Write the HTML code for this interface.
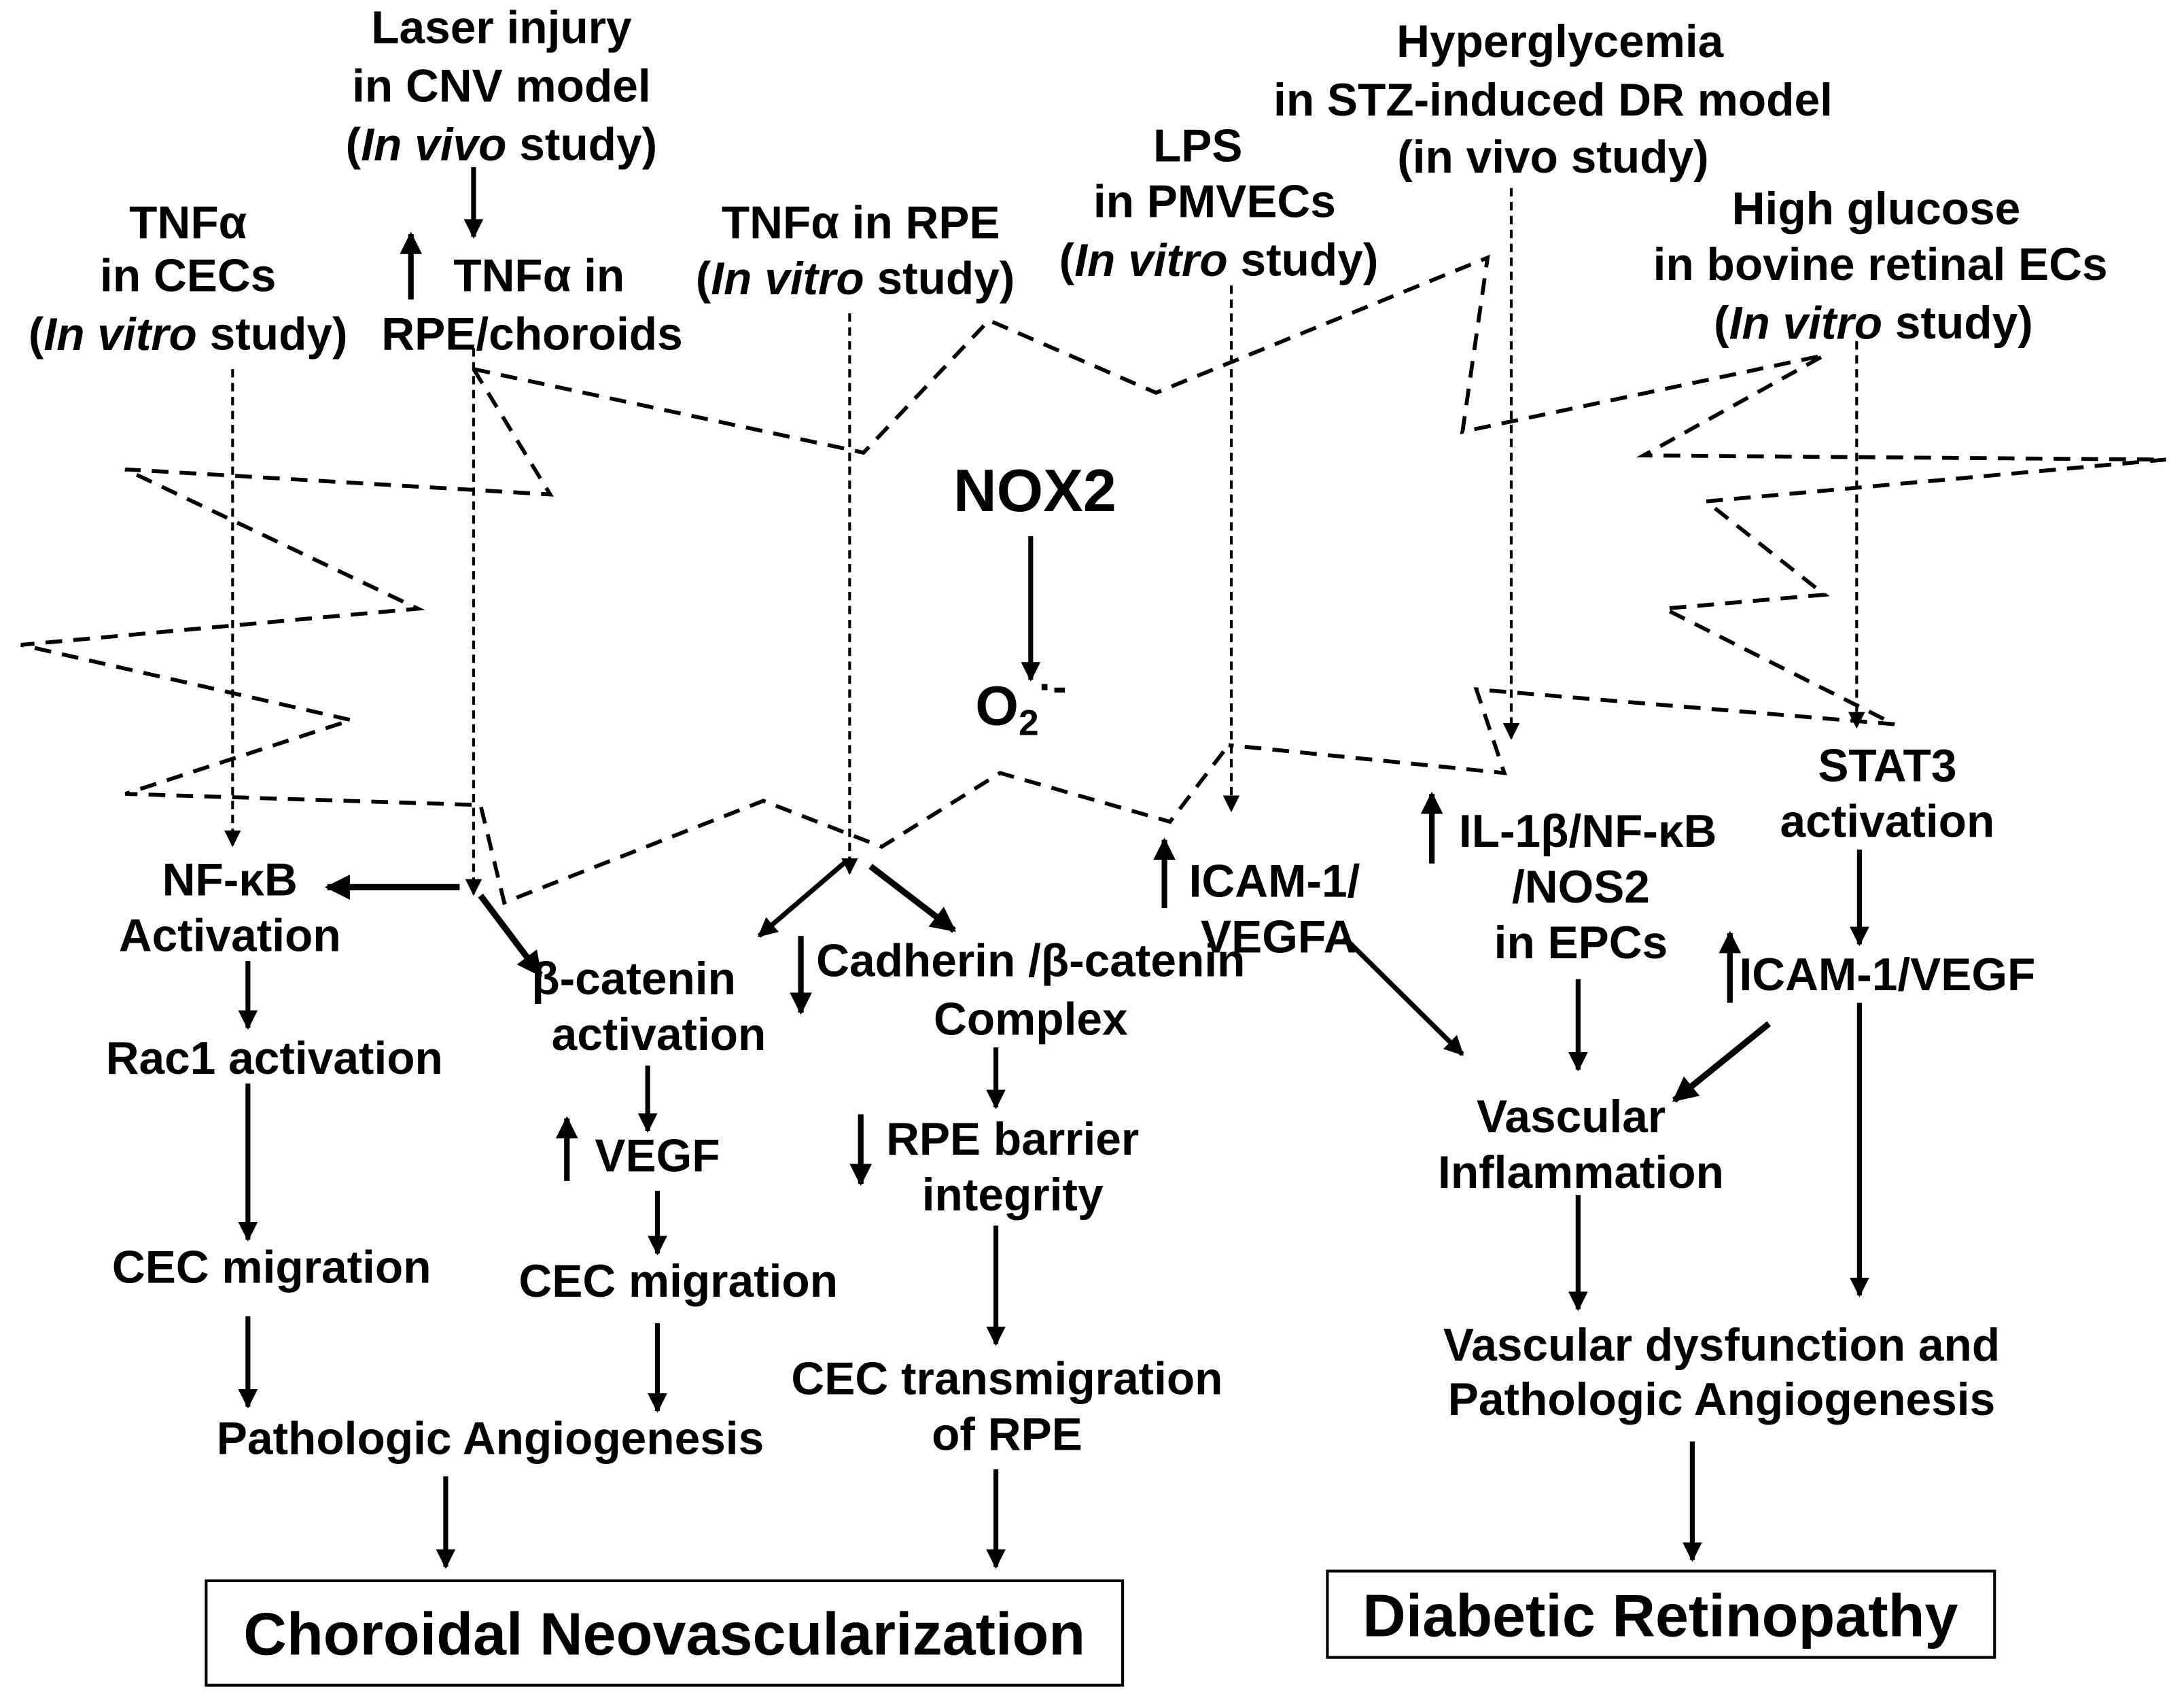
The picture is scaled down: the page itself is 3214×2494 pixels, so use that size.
<!DOCTYPE html>
<html><head><meta charset="utf-8"><style>
html,body{margin:0;padding:0;background:#fff}
svg{display:block}
text{font-family:"Liberation Sans",Arial,sans-serif;font-weight:bold;font-size:33px;fill:#000;text-anchor:middle;dominant-baseline:central}
</style></head><body>
<svg width="3214" height="2494" viewBox="0 0 1568 1217" preserveAspectRatio="none" xmlns="http://www.w3.org/2000/svg">
<defs>
<marker id="a" viewBox="0 0 10 10" refX="9" refY="5" markerWidth="4" markerHeight="4" orient="auto"><path d="M0,0L10,5L0,10z" fill="#000"/></marker>
<marker id="d" viewBox="0 0 10 10" refX="9" refY="5" markerWidth="6" markerHeight="6" orient="auto"><path d="M0,0L10,5L0,10z" fill="#000"/></marker>
</defs>
<text x="360" y="20">Laser injury</text>
<text x="360" y="62">in CNV model</text>
<text x="360" y="104">(<tspan font-style="italic">In vivo</tspan> study)</text>
<text x="135" y="160">TNFα</text>
<text x="135" y="198">in CECs</text>
<text x="135" y="240">(<tspan font-style="italic">In vitro</tspan> study)</text>
<text x="387" y="198">TNFα in</text>
<text x="382" y="240">RPE/choroids</text>
<text x="618" y="160">TNFα in RPE</text>
<text x="614" y="200">(<tspan font-style="italic">In vitro</tspan> study)</text>
<text x="860" y="105">LPS</text>
<text x="872" y="145">in PMVECs</text>
<text x="875" y="187">(<tspan font-style="italic">In vitro</tspan> study)</text>
<text x="1120" y="30">Hyperglycemia</text>
<text x="1115" y="72">in STZ-induced DR model</text>
<text x="1115" y="113">(in vivo study)</text>
<text x="1347" y="150">High glucose</text>
<text x="1350" y="190">in bovine retinal ECs</text>
<text x="1345" y="232">(<tspan font-style="italic">In vitro</tspan> study)</text>
<text x="743" y="352" style="font-size:43px">NOX2</text>
<text x="733" y="507" style="font-size:40px">O<tspan dy="12" style="font-size:26px">2</tspan><tspan dy="-26" style="font-size:30px">·-</tspan></text>

<g stroke="#000" stroke-width="3.5" fill="none">
<line x1="340" y1="120" x2="340" y2="170" marker-end="url(#a)"/>
<line x1="295" y1="215" x2="295" y2="168" marker-end="url(#a)" stroke-width="4"/>
<line x1="740" y1="385" x2="740" y2="488" marker-end="url(#a)"/>
</g>
<g stroke="#000" stroke-width="2" fill="none" stroke-dasharray="6,4">
<line x1="167" y1="265" x2="167" y2="607" marker-end="url(#d)"/>
<line x1="340" y1="250" x2="340" y2="642" marker-end="url(#d)"/>
<line x1="610" y1="225" x2="610" y2="627" marker-end="url(#d)"/>
<line x1="884" y1="205" x2="884" y2="582" marker-end="url(#d)"/>
<line x1="1085" y1="135" x2="1085" y2="530" marker-end="url(#d)"/>
<line x1="1333" y1="245" x2="1333" y2="522" marker-end="url(#d)"/>
</g>
<g stroke="#000" stroke-width="2.8" fill="none" stroke-dasharray="12,8">
<polyline points="340,265 395,355 90,337 300,437 15,463 252,517 90,570 345,578 362,648 548,575 633,608 718,555 840,590 882,535"/>
<polyline points="340,265 620,325 710,230 830,282 1068,185 1050,310 1310,255 1180,327 1555,330 1225,360 1310,427 1195,437 1360,520 1060,495 1080,555 882,535"/>
</g>

<text x="165" y="632">NF-κB</text>
<text x="165" y="672">Activation</text>
<text x="197" y="760">Rac1 activation</text>
<text x="195" y="910">CEC migration</text>
<text x="352" y="1033">Pathologic Angiogenesis</text>
<text x="455" y="703">β-catenin</text>
<text x="473" y="743">activation</text>
<text x="740" y="690">Cadherin /β-catenin</text>
<text x="740" y="732">Complex</text>
<text x="472" y="830">VEGF</text>
<text x="487" y="920">CEC migration</text>
<text x="727" y="818">RPE barrier</text>
<text x="727" y="858">integrity</text>
<text x="723" y="990">CEC transmigration</text>
<text x="723" y="1030">of RPE</text>
<rect x="148" y="1135" width="658" height="75" fill="none" stroke="#000" stroke-width="2"/>
<text x="477" y="1173" style="font-size:43px">Choroidal Neovascularization</text>

<text x="915" y="633">ICAM-1/</text>
<text x="918" y="673">VEGFA</text>
<text x="1140" y="597">IL-1β/NF-κB</text>
<text x="1135" y="637">/NOS2</text>
<text x="1135" y="677">in EPCs</text>
<text x="1355" y="550">STAT3</text>
<text x="1355" y="590">activation</text>
<text x="1355" y="700">ICAM-1/VEGF</text>
<text x="1128" y="802">Vascular</text>
<text x="1135" y="842">Inflammation</text>
<text x="1236" y="966">Vascular dysfunction and</text>
<text x="1236" y="1005">Pathologic Angiogenesis</text>
<rect x="953" y="1128" width="479" height="62" fill="none" stroke="#000" stroke-width="2"/>
<text x="1192" y="1160" style="font-size:43px">Diabetic Retinopathy</text>

<g stroke="#000" stroke-width="3.5" fill="none" marker-end="url(#a)">
<line x1="330" y1="637" x2="235" y2="637" stroke-width="4.5"/>
<line x1="178" y1="690" x2="178" y2="738"/>
<line x1="178" y1="778" x2="178" y2="890"/>
<line x1="178" y1="945" x2="178" y2="1010"/>
<line x1="320" y1="1060" x2="320" y2="1125"/>
<line x1="345" y1="643" x2="388" y2="700" stroke-width="4.5"/>
<line x1="575" y1="672" x2="575" y2="727" stroke-width="4"/>
<line x1="608" y1="618" x2="545" y2="672"/>
<line x1="625" y1="622" x2="685" y2="668" stroke-width="4.5"/>
<line x1="465" y1="765" x2="465" y2="812"/>
<line x1="407" y1="848" x2="407" y2="803" stroke-width="4"/>
<line x1="472" y1="855" x2="472" y2="900"/>
<line x1="472" y1="950" x2="472" y2="1013"/>
<line x1="715" y1="752" x2="715" y2="795"/>
<line x1="618" y1="800" x2="618" y2="850" stroke-width="4"/>
<line x1="715" y1="880" x2="715" y2="965"/>
<line x1="715" y1="1055" x2="715" y2="1125"/>
<line x1="836" y1="652" x2="836" y2="603" stroke-width="4"/>
<line x1="965" y1="673" x2="1050" y2="757"/>
<line x1="1028" y1="620" x2="1028" y2="570" stroke-width="4"/>
<line x1="1133" y1="703" x2="1133" y2="768"/>
<line x1="1335" y1="610" x2="1335" y2="678"/>
<line x1="1242" y1="720" x2="1242" y2="670" stroke-width="4"/>
<line x1="1270" y1="735" x2="1202" y2="790" stroke-width="4.5"/>
<line x1="1335" y1="720" x2="1335" y2="930"/>
<line x1="1133" y1="858" x2="1133" y2="940"/>
<line x1="1215" y1="1035" x2="1215" y2="1120"/>
</g>
</svg>
</body></html>
